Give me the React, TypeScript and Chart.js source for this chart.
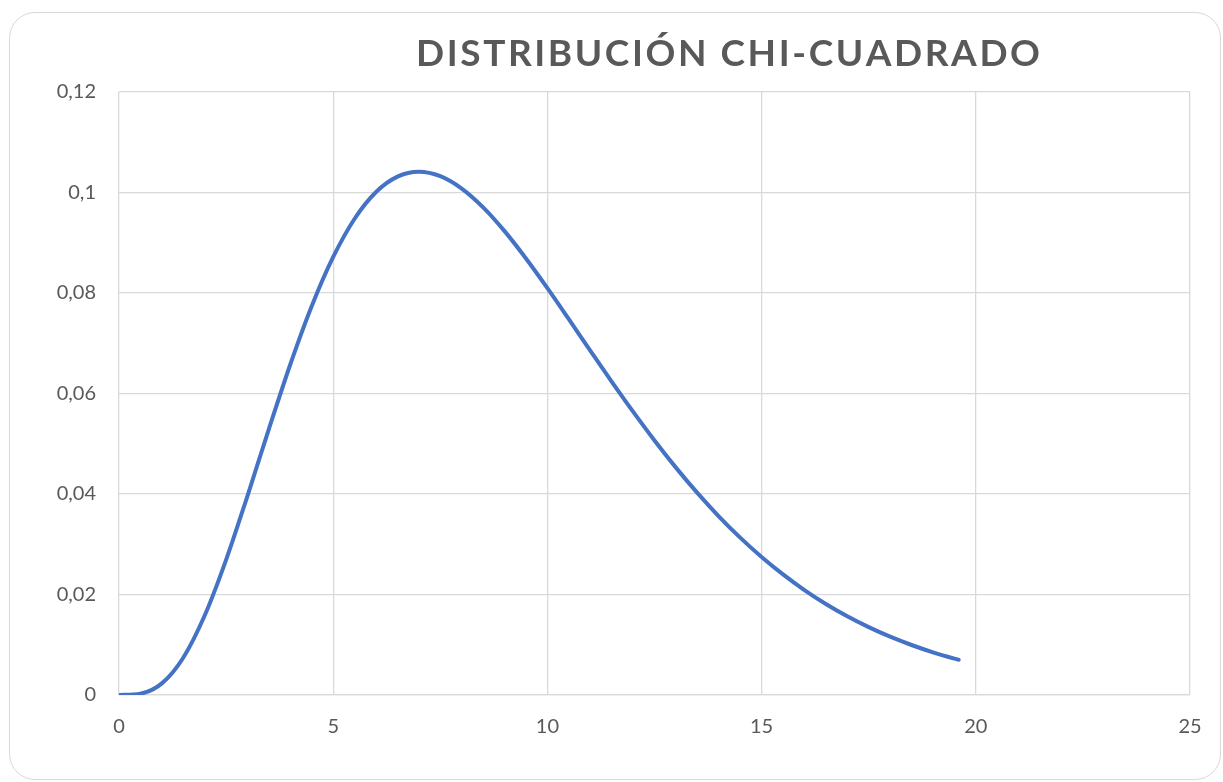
import React, { useEffect, useRef } from "react";
import { Chart, registerables } from "chart.js";

Chart.register(...registerables);

const chartTitle = "DISTRIBUCIÓN CHI-CUADRADO";

const xValues = [
  0, 0.5, 1, 1.5, 2, 2.5, 3, 3.5, 4, 4.5, 5, 5.5, 6, 6.5, 7, 7.5, 8, 8.5, 9, 9.5,
  10, 10.5, 11, 11.5, 12, 12.5, 13, 13.5, 14, 14.5, 15, 15.5, 16, 16.5, 17, 17.5,
  18, 18.5, 19, 19.5, 19.6,
];

const densityValues = [
  0, 0.00026, 0.00231, 0.00742, 0.01581, 0.02689, 0.03965, 0.05296, 0.06582,
  0.07741, 0.08717, 0.09478, 0.10009, 0.10315, 0.10412, 0.10324, 0.10078,
  0.09704, 0.09231, 0.08687, 0.08096, 0.07479, 0.06855, 0.06237, 0.05638,
  0.05065, 0.04525, 0.04022, 0.03557, 0.03132, 0.02747, 0.02399, 0.02088,
  0.01811, 0.01566, 0.0135, 0.0116, 0.00995, 0.0085, 0.00725, 0.00702,
];

const yTickLabels = ["0", "0,02", "0,04", "0,06", "0,08", "0,1", "0,12"];
const xTickLabels = ["0", "5", "10", "15", "20", "25"];

const titlePlugin = {
  id: "customTitle",
  afterDraw(chart: any) {
    const ctx = chart.ctx;
    ctx.save();
    ctx.font = "bold 37px Lato";
    ctx.fillStyle = "#595959";
    ctx.textBaseline = "alphabetic";
    ctx.textAlign = "left";
    const chars = Array.from(chartTitle);
    const widths = chars.map((c) => ctx.measureText(c).width);
    const total = widths.reduce((a, b) => a + b, 0);
    const targetLeft = 416;
    const targetWidth = 624;
    const spacing = (targetWidth - total) / (chars.length - 1);
    let x = targetLeft;
    chars.forEach((c, i) => {
      ctx.fillText(c, x, 66);
      x += widths[i] + spacing;
    });
    ctx.restore();
  },
};

export default function App() {
  const canvasRef = useRef<HTMLCanvasElement | null>(null);

  useEffect(() => {
    if (!canvasRef.current) return;
    const chart = new Chart(canvasRef.current, {
      type: "scatter",
      data: {
        datasets: [
          {
            data: xValues.map((x, i) => ({ x, y: densityValues[i] })),
            showLine: true,
            borderColor: "#4472C4",
            backgroundColor: "#4472C4",
            borderWidth: 4,
            pointRadius: 0,
            cubicInterpolationMode: "monotone",
            borderCapStyle: "round",
          },
        ],
      },
      options: {
        animation: false,
        responsive: false,
        maintainAspectRatio: false,
        layout: { padding: { left: 0, right: 33, top: 92, bottom: 37 } },
        plugins: {
          legend: { display: false },
          tooltip: { enabled: false },
          title: { display: false },
        },
        scales: {
          x: {
            type: "linear",
            min: 0,
            max: 25,
            ticks: {
              stepSize: 5,
              padding: 20,
              color: "#595959",
              font: { family: "Lato", size: 20 },
              callback: (v: any, i: number) => xTickLabels[i] ?? "",
            },
            grid: { color: "#d9d9d9", lineWidth: 1.3, drawTicks: false },
            border: { color: "#d9d9d9", width: 1.3 },
            afterFit: (s: any) => {
              s.height = 50;
            },
          },
          y: {
            type: "linear",
            min: 0,
            max: 0.12,
            ticks: {
              stepSize: 0.02,
              padding: 23,
              color: "#595959",
              font: { family: "Lato", size: 20 },
              callback: (v: any, i: number) => yTickLabels[i] ?? "",
            },
            grid: { color: "#d9d9d9", lineWidth: 1.3, drawTicks: false },
            border: { display: false },
            afterFit: (s: any) => {
              s.width = 119;
            },
          },
        },
      } as any,
      plugins: [titlePlugin],
    });
    return () => chart.destroy();
  }, []);

  return (
    <div
      style={{
        position: "fixed",
        left: 0,
        top: 0,
        width: 1223,
        height: 782,
        background: "#ffffff",
      }}
    >
      <div
        style={{
          position: "absolute",
          left: 9,
          top: 12,
          width: 1212,
          height: 768,
          border: "1.5px solid #d9d9d9",
          borderRadius: 26,
          boxSizing: "border-box",
        }}
      />
      <canvas
        ref={canvasRef}
        width={1223}
        height={782}
        style={{ position: "absolute", left: 0, top: 0 }}
      />
    </div>
  );
}
